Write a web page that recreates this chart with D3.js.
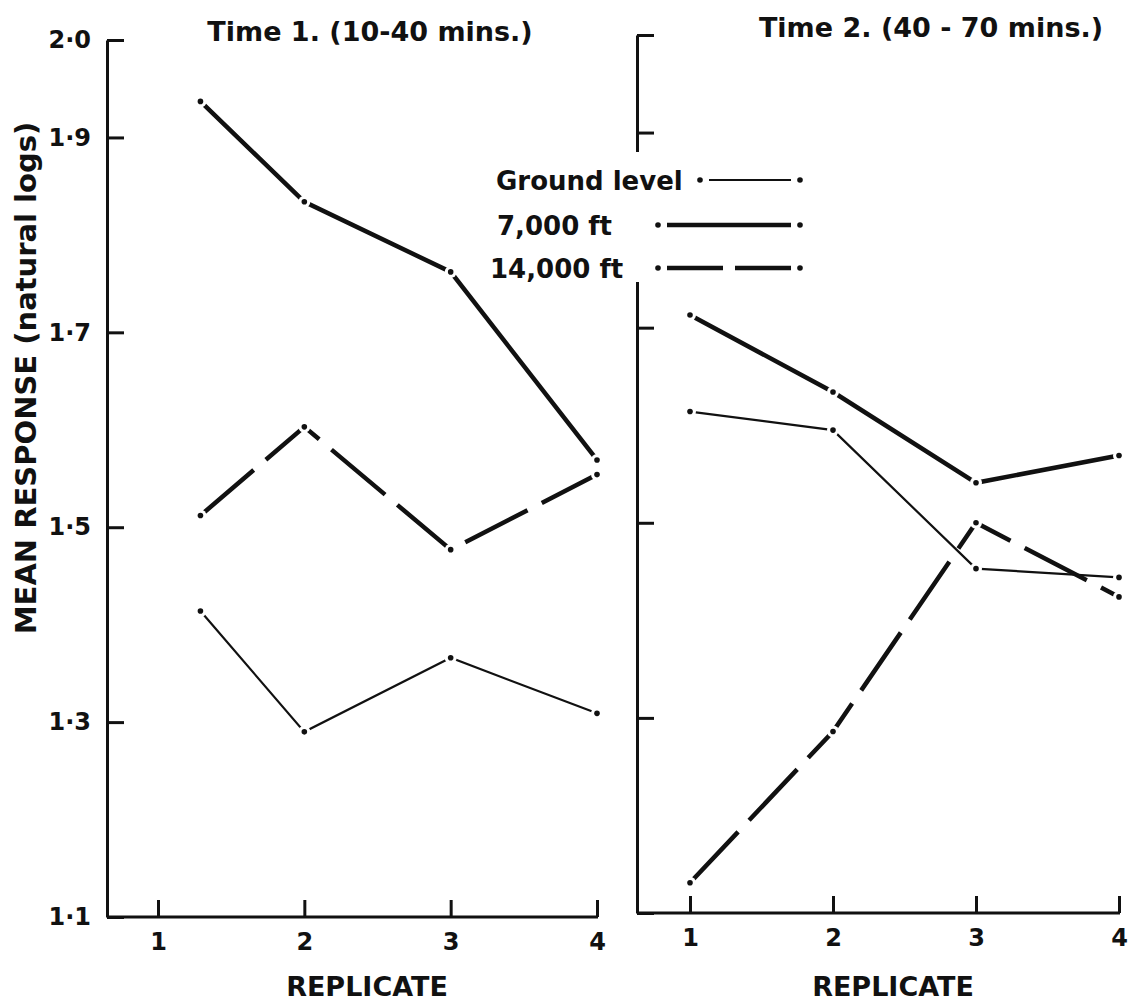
<!DOCTYPE html>
<html>
<head>
<meta charset="utf-8">
<script src="https://cdn.jsdelivr.net/npm/d3@7"></script>
<style>
  body { margin: 0; background: #fff; }
  svg text { font-family: "DejaVu Sans", sans-serif; font-weight: bold; fill: #111; }
</style>
</head>
<body>
<div id="chart"></div>
<script>

// replicate positions (first point sits right of tick 1 in panel 1)
var replicates = [1, 2, 3, 4];
var time1X = [1.29, 2, 3, 4];
var time2X = [1, 2, 3, 4];

// mean response (natural logs)
var groundTime1 = [1.414, 1.290, 1.366, 1.309];
var ft7000Time1 = [1.937, 1.834, 1.762, 1.569];
var ft14000Time1 = [1.512, 1.603, 1.477, 1.554];

var groundTime2 = [1.614, 1.595, 1.453, 1.444];
var ft7000Time2 = [1.713, 1.634, 1.541, 1.569];
var ft14000Time2 = [1.131, 1.286, 1.500, 1.424];

var yTicks = [2.0, 1.9, 1.7, 1.5, 1.3, 1.1];
var seriesNames = ["Ground level", "7,000  ft", "14,000  ft"];
var panelTitles = ["Time 1. (10-40 mins.)", "Time 2. (40 - 70 mins.)"];

var width = 1136, height = 1007;

var svg = d3.select("#chart").append("svg")
    .attr("width", width)
    .attr("height", height);

// line styles per series
var styles = [
    { width: 2.2, dash: null },
    { width: 4.5, dash: null },
    { width: 4.5, dash: "70,16" }
];

var panels = [
    { axisX: 107, xRange: [158, 597], yRange: [917, 40], xs: time1X,
      series: [groundTime1, ft7000Time1, ft14000Time1], labels: true,
      title: panelTitles[0], titleX: 370, titleY: 41, repX: 367 },
    { axisX: 637, xRange: [690, 1119], yRange: [913, 35], xs: time2X,
      series: [groundTime2, ft7000Time2, ft14000Time2], labels: false,
      title: panelTitles[1], titleX: 931, titleY: 37, repX: 893 }
];

panels.forEach(function(p) {
    var x = d3.scaleLinear().domain([1, 4]).range(p.xRange);
    var y = d3.scaleLinear().domain([1.1, 2.0]).range(p.yRange);

    var g = svg.append("g");

    // y axis, ticks pointing inward
    var yAxis = d3.axisLeft(y)
        .tickValues(yTicks)
        .tickSizeInner(-17)
        .tickSizeOuter(0)
        .tickPadding(16)
        .tickFormat(function(d) { return p.labels ? d3.format(".1f")(d).replace(".", "·") : ""; });

    var ya = g.append("g")
        .attr("transform", "translate(" + p.axisX + ",0)")
        .call(yAxis);
    ya.selectAll("line, path").attr("stroke", "#111").attr("stroke-width", 3);
    ya.selectAll("text").attr("font-size", 24).style("fill", "#111");

    // x axis line from the y axis to replicate 4
    var base = y(1.1);
    g.append("line")
        .attr("x1", p.axisX).attr("x2", x(4) + 1)
        .attr("y1", base).attr("y2", base)
        .attr("stroke", "#111").attr("stroke-width", 3);

    var xAxis = d3.axisBottom(x)
        .tickValues(replicates)
        .tickSizeInner(-17)
        .tickSizeOuter(0)
        .tickPadding(16)
        .tickFormat(d3.format("d"));

    var xa = g.append("g")
        .attr("transform", "translate(0," + base + ")")
        .call(xAxis);
    xa.select(".domain").remove();
    xa.selectAll("line").attr("stroke", "#111").attr("stroke-width", 3);
    xa.selectAll("text").attr("font-size", 24).style("fill", "#111");

    g.append("text")
        .attr("x", p.repX).attr("y", 996)
        .attr("text-anchor", "middle")
        .attr("font-size", 27)
        .text("REPLICATE");

    g.append("text")
        .attr("x", p.titleX).attr("y", p.titleY)
        .attr("text-anchor", "middle")
        .attr("font-size", 27)
        .text(p.title);

    var line = d3.line()
        .x(function(d, i) { return x(p.xs[i]); })
        .y(function(d) { return y(d); });

    p.series.forEach(function(s, k) {
        g.append("path")
            .datum(s)
            .attr("d", line)
            .attr("fill", "none")
            .attr("stroke", "#111")
            .attr("stroke-width", styles[k].width)
            .attr("stroke-dasharray", styles[k].dash);
    });

    // points: small dot with a white gap round it
    p.series.forEach(function(s) {
        var pts = g.selectAll(null).data(s).enter();
        pts.append("circle")
            .attr("cx", function(d, i) { return x(p.xs[i]); })
            .attr("cy", function(d) { return y(d); })
            .attr("r", 6).attr("fill", "#fff");
        pts.append("circle")
            .attr("cx", function(d, i) { return x(p.xs[i]); })
            .attr("cy", function(d) { return y(d); })
            .attr("r", 2.8).attr("fill", "#111");
    });
});

// y axis title
svg.append("text")
    .attr("transform", "translate(36,378) rotate(-90)")
    .attr("text-anchor", "middle")
    .attr("font-size", 29)
    .text("MEAN  RESPONSE  (natural  logs)");

// legend, sits on a white patch that breaks the right-hand axis
var legend = svg.append("g");
legend.append("rect")
    .attr("x", 480).attr("y", 152)
    .attr("width", 330).attr("height", 130)
    .attr("fill", "#fff");

var legendRows = [
    { y: 180, textX: 496, lineX: [700, 800] },
    { y: 225, textX: 497, lineX: [658, 800] },
    { y: 268, textX: 490, lineX: [658, 800] }
];

legendRows.forEach(function(r, k) {
    legend.append("text")
        .attr("x", r.textX).attr("y", r.y + 10)
        .attr("font-size", 26)
        .text(seriesNames[k]);
    legend.append("line")
        .attr("x1", r.lineX[0] + 9).attr("x2", r.lineX[1] - 9)
        .attr("y1", r.y).attr("y2", r.y)
        .attr("stroke", "#111")
        .attr("stroke-width", styles[k].width)
        .attr("stroke-dasharray", k === 2 ? "56,12" : null);
    r.lineX.forEach(function(px) {
        legend.append("circle")
            .attr("cx", px).attr("cy", r.y)
            .attr("r", 2.8).attr("fill", "#111");
    });
});

</script>
</body>
</html>
